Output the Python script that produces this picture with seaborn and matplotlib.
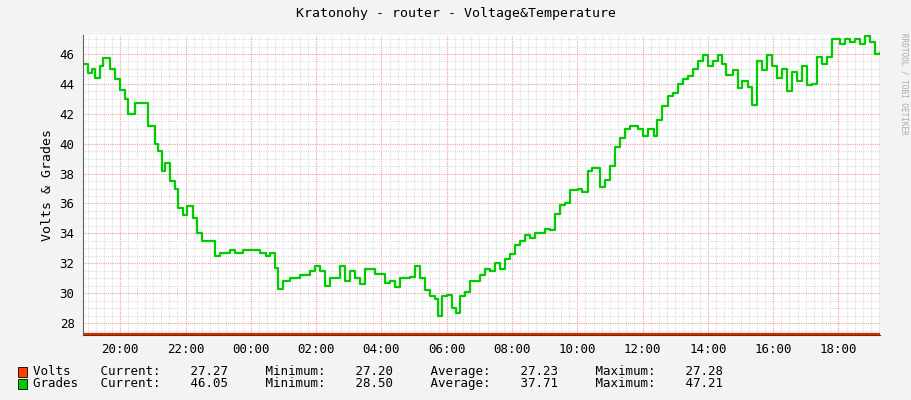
import matplotlib
matplotlib.use("Agg")
import matplotlib.pyplot as plt
import seaborn as sns
import pandas as pd
import numpy as np
from matplotlib.ticker import MultipleLocator, FixedLocator

# time axis in units of 1/36 h per 0.6 (chart units), start of window = 0
t_min = [0,8,15,20,28,33,45,53,62,70,75,87,103,108,120,125,132,137,145,153,158,167,173,183,190,198,212,220,228,245,253,267,295,305,312,320,325,333,345,362,378,387,395,403,412,428,437,445,453,462,470,487,503,512,520,528,545,553,562,570,578,587,592,598,607,615,622,628,637,645,662,670,678,687,695,703,712,720,728,737,745,753,770,778,787,795,803,812,825,832,842,848,862,870,878,887,895,903,912,925,933,942,952,957,965,975,983,992,1000,1008,1017,1025,1033,1042,1050,1058,1065,1072,1083,1092,1098,1108,1115,1123,1132,1140,1148,1157,1165,1173,1182,1190,1198,1207,1215,1223,1232,1240,1248,1262,1270,1278,1287,1295,1303,1312,1320,1328]
grades = [45.3,44.7,45.0,44.4,45.2,45.7,45.0,44.3,43.6,43.0,42.0,42.7,42.7,41.2,40.0,39.5,38.2,38.7,37.5,37.0,35.7,35.2,35.8,35.0,34.0,33.5,33.5,32.5,32.7,32.9,32.7,32.9,32.7,32.5,32.7,31.7,30.3,30.8,31.0,31.2,31.5,31.8,31.5,30.5,31.0,31.8,30.8,31.5,31.0,30.6,31.6,31.3,30.7,30.8,30.4,31.0,31.1,31.8,31.0,30.2,29.8,29.6,28.5,29.8,29.9,29.0,28.7,29.8,30.1,30.8,31.2,31.6,31.5,32.0,31.6,32.3,32.6,33.2,33.5,33.9,33.7,34.0,34.3,34.2,35.3,35.9,36.0,36.9,37.0,36.8,38.2,38.4,37.1,37.6,38.5,39.8,40.4,41.0,41.2,41.0,40.5,41.0,40.5,41.6,42.5,43.2,43.4,44.0,44.3,44.5,45.0,45.5,45.9,45.2,45.5,45.9,45.3,44.6,44.9,43.7,44.2,43.8,42.6,45.5,44.9,45.9,45.2,44.4,45.0,43.5,44.8,44.2,45.2,43.9,44.0,45.8,45.3,45.8,47.0,46.7,47.0,46.8,47.0,46.7,47.2,46.8,46.0,46.05]
volts = [27.27] * len(t_min)
tick_labels = ["20:00","22:00","00:00","02:00","04:00","06:00","08:00","10:00","12:00","14:00","16:00","18:00"]
tick_step = 108.8  # two hours in chart units
tick_pos = [62 + tick_step*i for i in range(len(tick_labels))]

df = pd.DataFrame({"t": t_min, "Grades": grades, "Volts": volts})

plt.rcParams['font.family'] = ['DejaVu Sans Mono']
fig = plt.figure(figsize=(9.11, 4.0), dpi=100, facecolor="#f3f3f3")
ax = fig.add_axes([83/911, 65/400, 797/911, 300/400])
ax.set_facecolor("white")

ax.xaxis.set_major_locator(FixedLocator(tick_pos))
ax.xaxis.set_minor_locator(FixedLocator(np.arange(62 - tick_step, 1340, tick_step/8)))
ax.yaxis.set_minor_locator(MultipleLocator(0.5))
ax.yaxis.set_major_locator(FixedLocator(np.arange(28, 47, 2)))
ax.grid(which="minor", color="#dddddd", linestyle=(0, (1, 1)), linewidth=0.8)
ax.grid(which="major", color="#f0a0a0", linestyle=(0, (1, 1)), linewidth=0.8)
ax.set_axisbelow(True)

sns.lineplot(data=df, x="t", y="Grades", ax=ax, color="#00cc00", linewidth=1.6, drawstyle="steps-post")
sns.lineplot(data=df, x="t", y="Volts", ax=ax, color="#cc3300", linewidth=1.6, drawstyle="steps-post")

ax.set_xticks(tick_pos)
ax.set_xticklabels(tick_labels)
ax.set_xlim(0, 1328)
ax.set_ylim(27.2, 47.27)
ax.tick_params(which="both", length=0, labelsize=9, pad=6)
ax.set_xlabel("")
ax.set_ylabel("Volts & Grades", fontsize=9.5)
for s in ["top", "right"]:
    ax.spines[s].set_visible(False)
ax.spines["left"].set_color("#606060")
ax.spines["bottom"].set_color("#802000")
ax.spines["left"].set_linewidth(0.8)

fig.text(0.5, 0.965, "Kratonohy - router - Voltage&Temperature", ha="center", va="center", fontsize=9.5)
fig.text(0.992, 0.79, "RRDTOOL / TOBI OETIKER", rotation=270, ha="center", va="center", fontsize=5.5, color="#aaaaaa")

rows = [("#ff4000", "Volts    Current:    27.27     Minimum:    27.20     Average:    27.23     Maximum:    27.28"),
        ("#00cc00", "Grades   Current:    46.05     Minimum:    28.50     Average:    37.71     Maximum:    47.21")]
for i, (c, txt) in enumerate(rows):
    y = (400 - 372 - 12*i) / 400
    fig.patches.append(plt.Rectangle((18/911, y - 0.013), 9/911, 0.026, transform=fig.transFigure, facecolor=c, edgecolor="black", linewidth=0.6))
    fig.text(33/911, y, txt, va="center", fontsize=9)

fig.savefig("out.png", dpi=100, facecolor=fig.get_facecolor())
